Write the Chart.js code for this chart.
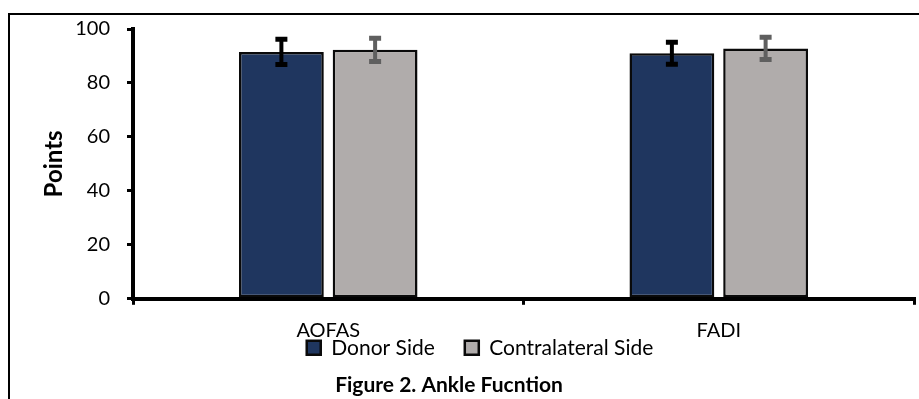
<!DOCTYPE html>
<html>
<head>
<meta charset="utf-8">
<script src="https://cdn.jsdelivr.net/npm/chart.js@4"></script>
<style>
  html, body { margin: 0; padding: 0; background: #fff; overflow: hidden; }
  #wrap { position: relative; width: 919px; height: 399px; }
  #frame { position: absolute; left: 8px; top: 13px; width: 2000px; height: 2000px;
           border: 2px solid #000; pointer-events: none; }
</style>
</head>
<body>
<div id="wrap">
  <canvas id="ankle-chart" width="919" height="399"></canvas>
  <div id="frame"></div>
</div>
<script>
// valori
var categories = ['AOFAS', 'FADI'];
var donorSide = [91.5, 91.0];
var contralateralSide = [92.3, 92.8];
var donorErr = [4.7, 4.1];
var contralateralErr = [4.3, 4.1];
var yTicks = [0, 20, 40, 60, 80, 100];

Chart.defaults.font.family = 'Lato';
Chart.defaults.color = '#000';

// barre di errore disegnate sopra le colonne
var errorBars = {
  id: 'errorBars',
  afterDatasetsDraw: function (chart) {
    var ctx = chart.ctx;
    var y = chart.scales.y;
    chart.data.datasets.forEach(function (ds, i) {
      var meta = chart.getDatasetMeta(i);
      meta.data.forEach(function (bar, j) {
        var v = ds.data[j], e = ds.errors[j];
        var top = y.getPixelForValue(v + e);
        var bot = y.getPixelForValue(v - e);
        ctx.save();
        ctx.strokeStyle = ds.errorColor;
        ctx.lineWidth = 4;
        ctx.beginPath();
        ctx.moveTo(bar.x, top);
        ctx.lineTo(bar.x, bot);
        ctx.stroke();
        ctx.lineWidth = 5;
        ctx.beginPath();
        ctx.moveTo(bar.x - 6, top);
        ctx.lineTo(bar.x + 6, top);
        ctx.moveTo(bar.x - 6, bot);
        ctx.lineTo(bar.x + 6, bot);
        ctx.stroke();
        ctx.restore();
      });
    });
  }
};

// legenda e titolo messi sotto l'asse come nella figura originale
var placeBoxes = {
  id: 'placeBoxes',
  afterLayout: function (chart) {
    var a = chart.chartArea, lg = chart.legend, t = chart.titleBlock;
    if (lg) {
      lg.top = a.bottom + 8.5; lg.bottom = lg.top + 60; lg.height = 60;
      lg.left = 41; lg.right = 919; lg.width = 878;
    }
    if (t) {
      t.top = a.bottom + 86 - 4 - 12.6; t.bottom = t.top + 30.2; t.height = 30.2;
      t.left = 0; t.right = 898; t.width = 898;
    }
  }
};

var ctx = document.getElementById('ankle-chart').getContext('2d');
var ankleChart = new Chart(ctx, {
  type: 'bar',
  data: {
    labels: categories,
    datasets: [{
      label: 'Donor Side',
      data: donorSide,
      errors: donorErr,
      errorColor: '#000000',
      backgroundColor: '#1f365f',
      borderColor: '#0a0a0a',
      borderWidth: 2.5,
      borderSkipped: false
    }, {
      label: 'Contralateral Side',
      data: contralateralSide,
      errors: contralateralErr,
      errorColor: '#5f5f5f',
      backgroundColor: '#b0acab',
      borderColor: '#0a0a0a',
      borderWidth: 2.5,
      borderSkipped: false
    }]
  },
  options: {
    responsive: false,
    animation: false,
    categoryPercentage: 0.48,
    barPercentage: 0.905,
    layout: { padding: { left: 36, right: 5, top: 28, bottom: 0 } },
    scales: {
      x: {
        grid: { drawOnChartArea: false, drawTicks: true, tickLength: 6, color: '#000', lineWidth: 3, offset: true },
        border: { color: '#000', width: 4 },
        ticks: { font: { size: 20 }, color: '#000', padding: 14 }
      },
      y: {
        min: 0,
        max: 100,
        afterBuildTicks: function (scale) {
          scale.ticks = yTicks.map(function (v) { return { value: v }; });
        },
        afterFit: function (scale) { scale.width = 97; },
        grid: { drawOnChartArea: false, drawTicks: true, tickLength: 6, color: '#000', lineWidth: 3 },
        border: { color: '#000', width: 4 },
        ticks: { font: { size: 20 }, color: '#000', padding: 17 },
        title: { display: true, text: 'Points', font: { size: 24, weight: 'bold' }, color: '#000', padding: { top: 4, bottom: 4 } }
      }
    },
    plugins: {
      legend: {
        position: 'bottom',
        maxHeight: 12,
        labels: { boxWidth: 14, boxHeight: 14, padding: 30, font: { size: 21 }, color: '#000' }
      },
      title: {
        display: true,
        position: 'bottom',
        text: 'Figure 2. Ankle Fucntion',
        font: { size: 21, weight: 'bold' },
        color: '#000',
        padding: { top: 4, bottom: 1 }
      },
      tooltip: { enabled: false }
    }
  },
  plugins: [errorBars, placeBoxes]
});
</script>
</body>
</html>
